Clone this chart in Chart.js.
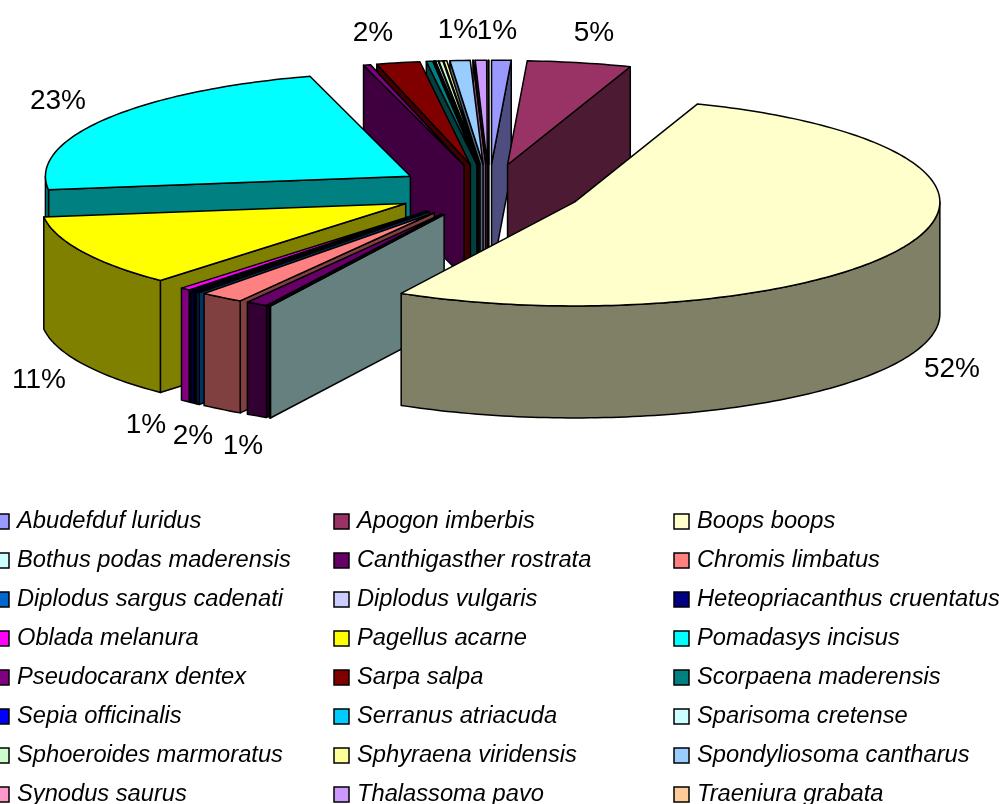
<!DOCTYPE html>
<html><head><meta charset="utf-8">
<style>html,body{margin:0;padding:0;background:#fff;overflow:hidden}canvas{display:block}</style>
<script src="https://cdn.jsdelivr.net/npm/chart.js@4/dist/chart.umd.js"></script>
</head><body><canvas id="c" width="999" height="804"></canvas>
<script>
const categories = ["Abudefduf luridus","Apogon imberbis","Boops boops","Bothus podas maderensis","Canthigasther rostrata","Chromis limbatus","Diplodus sargus cadenati","Diplodus vulgaris","Heteopriacanthus cruentatus","Oblada melanura","Pagellus acarne","Pomadasys incisus","Pseudocaranx dentex","Sarpa salpa","Scorpaena maderensis","Sepia officinalis","Serranus atriacuda","Sparisoma cretense","Sphoeroides marmoratus","Sphyraena viridensis","Spondyliosoma cantharus","Synodus saurus","Thalassoma pavo","Traeniura grabata"];
const values = [0.86,4.6,52.45,0.06,0.97,1.94,0.14,0.08,0.2,0.45,11.2,22.64,0.31,1.92,0.28,0.03,0.03,0.11,0.17,0.14,0.89,0.03,0.5,0.03];
const colors = ["#9999FF","#993366","#FFFFCC","#CCFFFF","#660066","#FF8080","#0066CC","#CCCCFF","#000080","#FF00FF","#FFFF00","#00FFFF","#800080","#800000","#008080","#0000FF","#00CCFF","#CCFFFF","#CCFFCC","#FFFF99","#99CCFF","#FF99CC","#CC99FF","#FFCC99"];
const percentTexts = ["23%","2%","1%","1%","5%","52%","11%","1%","2%","1%"];
const percentAnchorsX = [58,373,458,497,594,952,39,146,193,243];
const percentAnchorsY = [101,33,30,31,33,369,380,425,436,446];

const TILT = 0.285, DEPTH = 112;
function darken(hex){
  const n = parseInt(hex.slice(1),16);
  return `rgb(${Math.round((n>>16&255)/2)},${Math.round((n>>8&255)/2)},${Math.round((n&255)/2)})`;
}
const pie3d = {
  id:'pie3d',
  beforeDatasetDraw(chart, args){
    const ctx = chart.ctx, arcs = chart.getDatasetMeta(args.index).data;
    function key(a){
      const mid=(a.startAngle+a.endAngle)/2, south=Math.PI/2;
      if(a.startAngle<=south && a.endAngle>=south) return 1e6;
      return -Math.abs(mid-south);
    }
    const order = arcs.map((a,i)=>({a,i})).sort((p,q)=>key(p.a)-key(q.a));
    ctx.save();
    ctx.lineJoin='round';
    ctx.strokeStyle='#000';
    ctx.lineWidth=1.5;
    for(const {a,i} of order){
      const mid=(a.startAngle+a.endAngle)/2, off=a.options.offset, R=a.outerRadius;
      const ox=Math.cos(mid)*off, oy=Math.sin(mid)*off;
      const proj=(th,r,h)=>[a.x+ox+Math.cos(th)*r, a.y+TILT*(oy+Math.sin(th)*r)+h];
      const face=(pts,fill)=>{
        ctx.beginPath();
        pts.forEach((p,n)=>n?ctx.lineTo(p[0],p[1]):ctx.moveTo(p[0],p[1]));
        ctx.closePath();
        ctx.fillStyle=fill; ctx.fill(); ctx.stroke();
      };
      const dark=darken(colors[i]);
      const radial=th=>face([proj(th,0,0),proj(th,R,0),proj(th,R,DEPTH),proj(th,0,DEPTH)],dark);
      if(Math.cos(a.startAngle)<0) radial(a.startAngle);
      if(Math.cos(a.endAngle)>0) radial(a.endAngle);
      const lo=Math.max(a.startAngle,0), hi=Math.min(a.endAngle,Math.PI);
      if(hi>lo){
        const n=Math.max(2,Math.ceil((hi-lo)/0.02)), top=[], bot=[];
        for(let k=0;k<=n;k++){const t=lo+(hi-lo)*k/n; top.push(proj(t,R,0)); bot.unshift(proj(t,R,DEPTH));}
        face(top.concat(bot),dark);
      }
      const n=Math.max(2,Math.ceil((a.endAngle-a.startAngle)/0.02)), pts=[proj(a.startAngle,0,0)];
      for(let k=0;k<=n;k++) pts.push(proj(a.startAngle+(a.endAngle-a.startAngle)*k/n,R,0));
      face(pts,a.options.backgroundColor);
    }
    ctx.restore();
    return false;
  },
  afterDraw(chart){
    const ctx=chart.ctx;
    ctx.save();
    ctx.fillStyle='#000';
    ctx.textBaseline='middle'; ctx.textAlign='center';
    ctx.font='28px "Liberation Sans", Arial, sans-serif';
    percentTexts.forEach((t,i)=>ctx.fillText(t,percentAnchorsX[i],percentAnchorsY[i]));
    ctx.textAlign='left'; ctx.textBaseline='alphabetic';
    ctx.font='italic 23.7px "Liberation Sans", Arial, sans-serif';
    const colX=[-6,334,674];
    chart.data.labels.forEach((name,i)=>{
      const col=i%3,row=Math.floor(i/3),x=colX[col],y=514+row*39;
      ctx.fillStyle=colors[i]; ctx.strokeStyle='#000'; ctx.lineWidth=1.5;
      ctx.fillRect(x,y,15,15); ctx.strokeRect(x,y,15,15);
      ctx.fillStyle='#000';
      ctx.fillText(name,x+23,y+14);
    });
    ctx.restore();
  }
};
new Chart(document.getElementById('c'),{
  type:'pie',
  data:{labels:categories,datasets:[{data:values,backgroundColor:colors,borderColor:'#000',borderWidth:1.5,offset:94}]},
  options:{
    responsive:false,animation:false,radius:365,rotation:0,
    layout:{padding:{left:0,right:21,top:0,bottom:422}},
    plugins:{legend:{display:false},tooltip:{enabled:false},title:{display:false}}
  },
  plugins:[pie3d]
});
</script></body></html>
